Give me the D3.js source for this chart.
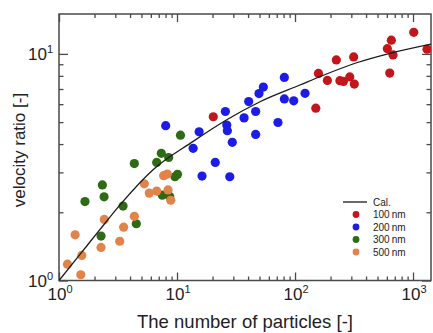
<!DOCTYPE html>
<html>
<head>
<meta charset="utf-8">
<script src="https://cdn.jsdelivr.net/npm/d3@7"></script>
<style>
  body { margin: 0; background: #fff; }
  svg { display: block; font-family: "Liberation Sans", Arial, sans-serif; }
</style>
</head>
<body>
<div id="chart"></div>
<script>
// particle count (x) and velocity ratio (y) per particle size
const n100 = [20.3, 150, 158, 188, 224, 240, 257, 291, 314, 318, 606, 655, 677, 635, 1014, 1314];
const v100 = [5.28, 5.76, 8.20, 7.64, 9.41, 7.62, 7.56, 7.91, 9.70, 7.36, 10.55, 11.5, 9.90, 8.23, 12.45, 10.49];

const n200 = [8.02, 15.4, 13.7, 16.3, 21.1, 28.0, 25.7, 26.4, 26.7, 29.4, 37.0, 40.5, 46.4, 46.4, 49.5, 53.9, 71.7, 81.2, 81.2, 97.5, 121.6];
const v200 = [4.82, 4.53, 3.83, 2.89, 3.32, 2.87, 5.57, 4.85, 4.58, 4.07, 5.22, 6.16, 5.57, 4.41, 6.68, 7.14, 4.98, 6.33, 7.87, 6.21, 6.70];

const n300 = [1.66, 2.33, 2.41, 2.27, 3.49, 4.52, 4.35, 6.73, 7.36, 8.50, 7.51, 8.67, 9.61, 10.1, 10.7];
const v300 = [2.23, 2.64, 2.34, 1.57, 2.13, 1.78, 3.28, 3.32, 3.64, 3.49, 2.38, 2.35, 2.87, 2.94, 4.38];

const n500 = [1.18, 1.53, 1.56, 1.37, 2.27, 2.42, 3.27, 3.53, 4.35, 5.28, 5.82, 6.73, 7.71, 8.28, 8.39, 8.85];
const v500 = [1.18, 1.06, 1.29, 1.59, 1.40, 1.86, 1.49, 1.72, 1.92, 2.67, 2.43, 2.48, 2.90, 2.95, 2.51, 2.26];

// calculated curve
const calN = [1, 1.5, 2.2, 3.4, 6.3, 13.7, 26.4, 50.5, 110, 174, 333, 638, 1476];
const calV = [1, 1.30, 1.667, 2.20, 3.09, 4.11, 5.12, 6.15, 7.29, 8.05, 9.14, 10.06, 11.09];

const seriesNames = ['100\u2009nm', '200\u2009nm', '300\u2009nm', '500\u2009nm'];
const seriesColors = ['#c3161c', '#1c1ce6', '#2f6a15', '#e2834a'];

const xMajor = [1, 10, 100, 1000];
const yMajor = [1, 10];

const W = 433, H = 333;
const margin = { top: 14, right: 2, bottom: 52.5, left: 59 };
const width = W - margin.left - margin.right;
const height = H - margin.top - margin.bottom;

const svg = d3.select('#chart').append('svg')
  .attr('width', W)
  .attr('height', H);

const g = svg.append('g')
  .attr('transform', `translate(${margin.left},${margin.top})`);

const x = d3.scaleLog().domain([1, 1420]).range([0, width]);
const y = d3.scaleLog().domain([1, 15]).range([height, 0]);

const minorX = [];
for (let d = 1; d <= 1000; d *= 10) {
  for (let k = 2; k <= 9; k++) if (d * k <= 1420) minorX.push(d * k);
}
const minorY = [];
for (let d = 1; d <= 10; d *= 10) {
  for (let k = 2; k <= 9; k++) if (d * k <= 15) minorY.push(d * k);
}

const axisColor = '#4a4a4a';

function styleAxis(sel) {
  sel.select('.domain').remove();
  sel.selectAll('line').attr('stroke', axisColor).attr('stroke-width', 1.3);
  sel.selectAll('text').remove();
}

// ticks point inward on all four sides
g.append('g').attr('transform', `translate(0,${height})`)
  .call(d3.axisBottom(x).tickValues(xMajor).tickSize(-8)).call(styleAxis);
g.append('g').attr('transform', `translate(0,${height})`)
  .call(d3.axisBottom(x).tickValues(minorX).tickSize(-4)).call(styleAxis);
g.append('g')
  .call(d3.axisTop(x).tickValues(xMajor).tickSize(-8)).call(styleAxis);
g.append('g')
  .call(d3.axisTop(x).tickValues(minorX).tickSize(-4)).call(styleAxis);
g.append('g')
  .call(d3.axisLeft(y).tickValues(yMajor).tickSize(-9)).call(styleAxis);
g.append('g')
  .call(d3.axisLeft(y).tickValues(minorY).tickSize(-4.5)).call(styleAxis);
g.append('g').attr('transform', `translate(${width},0)`)
  .call(d3.axisRight(y).tickValues(yMajor).tickSize(-9)).call(styleAxis);
g.append('g').attr('transform', `translate(${width},0)`)
  .call(d3.axisRight(y).tickValues(minorY).tickSize(-4.5)).call(styleAxis);

g.append('rect')
  .attr('width', width)
  .attr('height', height)
  .attr('fill', 'none')
  .attr('stroke', axisColor)
  .attr('stroke-width', 1.5);

// tick labels with superscript exponents
const xl = g.append('g').selectAll('text')
  .data(xMajor)
  .join('text')
  .attr('x', d => x(d) + 1)
  .attr('y', height + 19.5)
  .attr('text-anchor', 'middle')
  .attr('font-size', 17)
  .attr('fill', '#222');
xl.append('tspan').text('10');
xl.append('tspan').attr('font-size', 11).attr('dy', -7).text(d => Math.round(Math.log10(d)));

const yl = g.append('g').selectAll('text')
  .data(yMajor)
  .join('text')
  .attr('x', -6)
  .attr('y', d => y(d) + 6.5)
  .attr('text-anchor', 'end')
  .attr('font-size', 17)
  .attr('fill', '#222');
yl.append('tspan').text('10');
yl.append('tspan').attr('font-size', 11).attr('dy', -7).text(d => Math.round(Math.log10(d)));

// axis titles
svg.append('text')
  .attr('x', 245)
  .attr('y', 328)
  .attr('text-anchor', 'middle')
  .attr('font-size', 18.5)
  .attr('fill', '#222')
  .text('The number of particles [-]');

svg.append('text')
  .attr('transform', 'translate(25,150) rotate(-90)')
  .attr('text-anchor', 'middle')
  .attr('font-size', 17)
  .attr('fill', '#222')
  .text('velocity ratio [-]');

// clip for the plotted data
svg.append('defs').append('clipPath').attr('id', 'plot-clip')
  .append('rect').attr('width', width).attr('height', height);

const plot = g.append('g').attr('clip-path', 'url(#plot-clip)');

const series = [
  { n: n100, v: v100 },
  { n: n200, v: v200 },
  { n: n300, v: v300 },
  { n: n500, v: v500 }
];

series.forEach((s, i) => {
  plot.append('g')
    .selectAll('circle')
    .data(s.n.map((n, j) => ({ n: n, v: s.v[j] })))
    .join('circle')
    .attr('cx', d => x(d.n))
    .attr('cy', d => y(d.v))
    .attr('r', 4.6)
    .attr('fill', seriesColors[i]);
});

const line = d3.line()
  .x(d => x(d[0]))
  .y(d => y(d[1]))
  .curve(d3.curveMonotoneX);

plot.append('path')
  .datum(calN.map((n, i) => [n, calV[i]]))
  .attr('d', line)
  .attr('fill', 'none')
  .attr('stroke', '#1a1a1a')
  .attr('stroke-width', 1.3);

// legend
const legend = svg.append('g').attr('transform', 'translate(343,202)');
legend.append('line')
  .attr('x1', 0).attr('x2', 24)
  .attr('y1', 0).attr('y2', 0)
  .attr('stroke', '#1a1a1a')
  .attr('stroke-width', 1.3);
legend.append('text')
  .attr('x', 30).attr('y', 3.5)
  .attr('font-size', 10)
  .attr('fill', '#222')
  .text('Cal.');

const rows = legend.selectAll('g.row')
  .data(seriesNames)
  .join('g')
  .attr('class', 'row')
  .attr('transform', (d, i) => `translate(0,${12.5 * (i + 1)})`);
rows.append('circle')
  .attr('cx', 13).attr('cy', 0).attr('r', 3.4)
  .attr('fill', (d, i) => seriesColors[i]);
rows.append('text')
  .attr('x', 30).attr('y', 3.5)
  .attr('font-size', 10)
  .attr('fill', '#222')
  .text(d => d);
</script>
</body>
</html>
